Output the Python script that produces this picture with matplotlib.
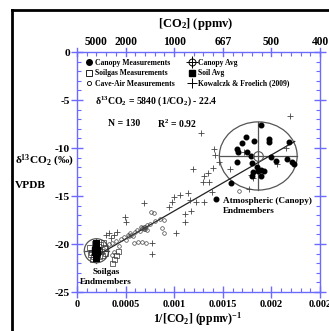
import matplotlib
matplotlib.use("Agg")
import matplotlib.pyplot as plt
from matplotlib.patches import Ellipse
from matplotlib.lines import Line2D
from matplotlib.ticker import MultipleLocator, FixedLocator, FixedFormatter

plt.rcParams['font.family'] = ['Liberation Serif', 'DejaVu Serif']
plt.rcParams['font.weight'] = 'bold'
plt.rcParams['axes.unicode_minus'] = False
plt.rcParams['mathtext.fontset'] = 'custom'
plt.rcParams['mathtext.rm'] = 'Liberation Serif:bold'
plt.rcParams['mathtext.it'] = 'Liberation Serif:bold'
plt.rcParams['mathtext.bf'] = 'Liberation Serif:bold'

# ---- data (x in 1e-3 ppmv^-1) ----
canopy_x = [1.896, 1.740, 1.696, 1.826, 1.971, 1.978, 2.178, 1.647, 1.655, 1.751, 1.785, 1.992, 2.043, 2.164,
            2.216, 2.234, 1.647, 1.799, 1.851, 1.861, 1.888, 1.923, 1.810, 1.896, 1.802, 1.585, 1.430]
canopy_y = [-7.60, -8.89, -9.51, -9.24, -9.09, -9.41, -9.41, -10.14, -10.39, -10.45, -10.80, -10.91, -11.32, -11.15,
            -11.43, -11.67, -11.49, -11.53, -12.01, -12.40, -12.29, -12.36, -12.47, -12.92, -12.89, -13.61, -15.34]

kow_x = [2.188, 1.28, 1.41, 1.42, 1.456, 1.723, 1.578, 1.792, 1.810, 2.154, 2.061, 1.771, 1.396, 1.195, 1.344,
         1.309, 1.293, 1.361, 1.061, 0.999, 0.982, 0.947, 1.138, 1.164, 1.223, 1.303, 1.386, 0.689, 1.110, 1.110,
         1.017, 0.768, 0.776, 0.489, 0.499, 0.414, 0.378, 0.327, 1.17, 0.30, 0.35]
kow_y = [-6.67, -8.42, -10.10, -10.73, -11.43, -10.39, -12.22, -12.81, -13.16, -10.03, -11.67, -14.22, -12.11,
         -12.19, -12.64, -12.92, -13.51, -13.51, -14.90, -15.07, -15.59, -16.11, -14.72, -15.42, -15.59, -15.59,
         -14.55, -15.76, -16.88, -17.68, -18.82, -19.93, -21.04, -17.16, -17.71, -18.72, -19.06, -18.89, -16.60,
         -19.1, -19.4]

cave_x = [0.30, 0.33, 0.36, 0.40, 0.43, 0.45, 0.48, 0.50, 0.52, 0.55, 0.58, 0.60, 0.62, 0.65, 0.67, 0.70, 0.72,
          0.75, 0.80, 0.85, 0.90, 1.663, 0.758, 0.789, 0.689, 0.724, 0.879, 0.896, 0.672, 0.627, 0.585, 0.706,
          0.379, 0.362, 0.68, 0.69, 0.66, 0.70, 0.54, 0.56]
cave_y = [-20.3, -20.0, -19.9, -19.7, -20.2, -19.5, -19.3, -19.6, -19.1, -18.9, -19.2, -18.7, -18.5, -18.6, -18.3,
          -18.2, -18.0, -17.9, -17.6, -17.4, -17.5, -14.48, -16.64, -16.77, -18.20, -18.54, -18.36, -18.82, -19.76,
          -19.76, -19.93, -19.86, -20.8, -21.15, -18.35, -18.45, -18.25, -18.4, -19.2, -19.1]

soil_x = [0.355, 0.381, 0.401, 0.417, 0.12, 0.14, 0.16, 0.17, 0.18, 0.19, 0.20, 0.21, 0.22, 0.23, 0.24, 0.25,
          0.26, 0.28, 0.15, 0.29, 0.13, 0.27, 0.19, 0.23]
soil_y = [-21.98, -21.56, -21.15, -20.73, -20.3, -20.8, -21.3, -19.9, -20.5, -21.5, -19.8, -21.0, -20.2, -21.3,
          -20.0, -20.7, -21.1, -20.4, -21.6, -20.9, -21.0, -19.8, -20.1, -20.6]

canopy_avg = (1.865, -10.83)
soil_avg = (0.20, -20.7)
canopy_ell = (1.865, -10.83, 0.80, 7.1)   # center x, center y, width, height
soil_ell = (0.20, -20.7, 0.25, 2.5)

slope = 5840.0
intercept = -22.4
fit_range = [0.25, 2.24]

bottom_ticks = [0, 0.5, 1.0, 1.5, 2.0, 2.5]
bottom_labels = ['0', '0.0005', '0.001', '0.0015', '0.002', '0.002']
top_ticks = [0.2, 0.5, 1.0, 1.5, 2.0, 2.5]
top_labels = ['5000', '2000', '1000', '667', '500', '400']
y_ticks = [0, -5, -10, -15, -20, -25]

sc = 1e-3
BLUE = '#6b6bff'

fig = plt.figure(figsize=(3.29, 3.31), dpi=100)
ax = fig.add_axes([77/329, 1-292/331, 243/329, 240/331])

X = lambda v: [a*sc for a in v]

# ellipses
for (cx, cy, w, h) in [canopy_ell, soil_ell]:
    ax.add_patch(Ellipse((cx*sc, cy), w*sc, h, fill=False, ec='#555555', lw=0.9, zorder=2))
    ax.plot([(cx-w/2)*sc, (cx+w/2)*sc], [cy, cy], color='#555555', lw=0.9, zorder=2)
    ax.plot([cx*sc, cx*sc], [cy-h/2, cy+h/2], color='#555555', lw=0.9, zorder=2)

# regression line
ax.plot([fit_range[0]*sc, fit_range[1]*sc], [slope*fit_range[0]*sc+intercept, slope*fit_range[1]*sc+intercept],
        color='#222222', lw=0.9, zorder=3)

ax.plot(X(kow_x), kow_y, ls='none', marker='+', ms=4.2, mew=0.6, color='#444444', zorder=4)
ax.plot(X(cave_x), cave_y, ls='none', marker='o', ms=2.6, mew=0.5, mfc='none', mec='#444444', zorder=4)
ax.plot(X(soil_x), soil_y, ls='none', marker='s', ms=3.6, mew=0.5, mfc='none', mec='#333333', zorder=4)
ax.plot(X(canopy_x), canopy_y, ls='none', marker='o', ms=3.3, color='black', zorder=5)
ax.plot([canopy_avg[0]*sc], [canopy_avg[1]], marker='o', ms=7, mfc='none', mec='#555555', mew=0.8, zorder=6)
ax.plot([soil_avg[0]*sc], [soil_avg[1]], marker='s', ms=6, color='black', zorder=6)
ax.plot([soil_avg[0]*sc, soil_avg[0]*sc], [soil_avg[1]+0.8, soil_avg[1]-0.8], color='black', lw=5, zorder=6)

ax.set_xlim(0, 0.0025)
ax.set_ylim(-25, 0)

for s in ax.spines.values():
    s.set_color(BLUE)
    s.set_linewidth(1.0)

ax.xaxis.set_major_locator(FixedLocator([t*sc for t in bottom_ticks]))
ax.xaxis.set_major_formatter(FixedFormatter(bottom_labels))
ax.xaxis.set_minor_locator(MultipleLocator(0.0001))
ax.yaxis.set_major_locator(FixedLocator(y_ticks))
ax.yaxis.set_minor_locator(MultipleLocator(1))
ax.tick_params(which='major', direction='inout', length=8, width=1.0, color=BLUE,
               pad=1, right=True, top=False)
ax.tick_params(which='minor', direction='in', length=3, width=0.8, color=BLUE, right=True, top=True)
ax.tick_params(axis='x', which='major', labelsize=7.5, pad=1.5)
ax.tick_params(axis='y', which='major', labelsize=8.2, pad=1)

secax = ax.secondary_xaxis('top')
secax.xaxis.set_major_locator(FixedLocator([t*sc for t in top_ticks]))
secax.xaxis.set_major_formatter(FixedFormatter(top_labels))
secax.tick_params(length=0, labelsize=8.3, pad=3)
secax.spines['top'].set_visible(False)
# top major ticks at bottom tick positions
for t in bottom_ticks:
    ax.plot([t*sc, t*sc], [-0.45, 0.45], color=BLUE, lw=1.0, clip_on=False, zorder=7)

for lab in ax.get_xticklabels() + ax.get_yticklabels() + secax.get_xticklabels():
    lab.set_fontweight('bold')

# axis labels
fig.text(196/329, 1-24/331, '[CO$_2$] (ppmv)', ha='center', va='center', fontsize=9, fontweight='bold')
fig.text(198/329, 1-319/331, '1/[CO$_2$] (ppmv)$^{-1}$', ha='center', va='center', fontsize=8.5, fontweight='bold')
fig.text(15/329, 1-161/331, 'δ$^{13}$CO$_2$ (‰)', ha='left', va='center', fontsize=8.2, fontweight='bold')
fig.text(15/329, 1-185/331, 'VPDB', ha='left', va='center', fontsize=8.2, fontweight='bold')

# annotations
ax.text(0.074, 0.797, 'δ$^{13}$CO$_2$ = 5840 (1/CO$_2$) - 22.4', transform=ax.transAxes, fontsize=7,
        fontweight='bold', ha='left', va='center')
ax.text(0.128, 0.700, 'N = 130', transform=ax.transAxes, fontsize=7, fontweight='bold', ha='left', va='center')
ax.text(0.33, 0.700, 'R$^2$ = 0.92', transform=ax.transAxes, fontsize=7, fontweight='bold', ha='left', va='center')
ax.text(0.599, 0.358, 'Atmospheric (Canopy)\nEndmembers', transform=ax.transAxes, fontsize=6.6,
        fontweight='bold', ha='left', va='center', linespacing=1.25)
ax.text(0.12, 0.062, 'Soilgas\nEndmembers', transform=ax.transAxes, fontsize=6.6,
        fontweight='bold', ha='center', va='center', linespacing=1.25)

# legend
h_can = Line2D([], [], ls='none', marker='o', ms=4, color='black')
h_soil = Line2D([], [], ls='none', marker='s', ms=4, mfc='none', mec='black', mew=0.6)
h_cave = Line2D([], [], ls='none', marker='o', ms=3, mfc='none', mec='black', mew=0.6)
h_cavg = (Line2D([], [], ls='none', marker='o', ms=5, mfc='none', mec='black', mew=0.7),
          Line2D([], [], ls='none', marker='+', ms=8, mec='black', mew=0.7))
h_savg = Line2D([], [], ls='none', marker='s', ms=5, color='black')
h_kow = Line2D([], [], ls='none', marker='+', ms=7, mec='black', mew=0.7)
leg = ax.legend([h_can, h_soil, h_cave, h_cavg, h_savg, h_kow],
                ['Canopy Measurements', 'Soilgas Measurements', 'Cave-Air Measurements',
                 'Canopy Avg', 'Soil Avg', 'Kowalczk & Froelich (2009)'],
                ncol=2, loc='upper left', bbox_to_anchor=(0.015, 0.99), frameon=False,
                prop={'family': 'Liberation Serif', 'weight': 'bold', 'size': 5.5},
                handlelength=1.0, handletextpad=0.3, columnspacing=1.7, labelspacing=0.3,
                borderaxespad=0.2)

# figure border (left and top)
fig.add_artist(Line2D([12/329, 12/329], [0, 1-10/331], transform=fig.transFigure, color='black', lw=2))
fig.add_artist(Line2D([12/329, 1], [1-10/331, 1-10/331], transform=fig.transFigure, color='black', lw=2))

fig.savefig('out.png', dpi=100)
